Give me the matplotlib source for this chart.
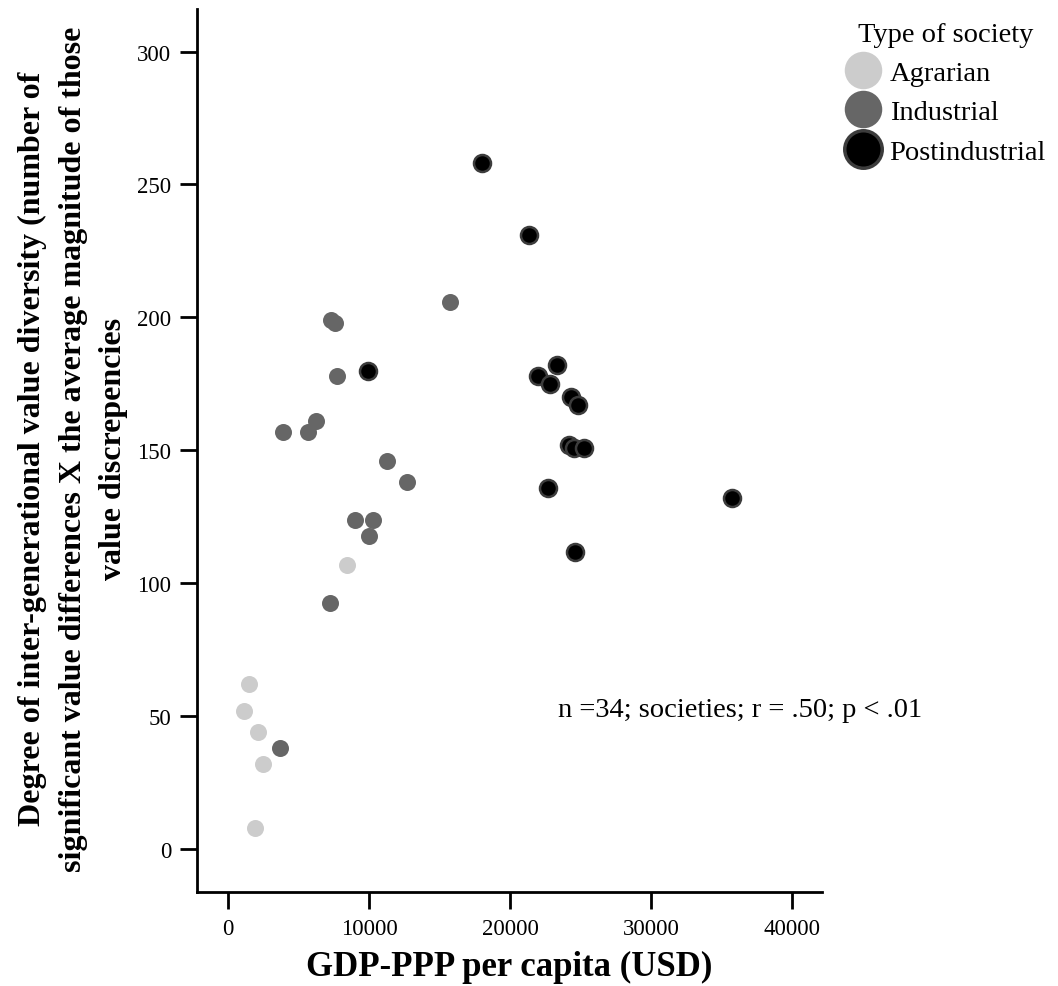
import matplotlib
matplotlib.use('Agg')
import matplotlib.pyplot as plt
from matplotlib.lines import Line2D

plt.rcParams['font.family'] = ['Liberation Serif', 'DejaVu Serif']

# GDP-PPP per capita (USD) and value diversity score, by type of society
agrarian_gdp = [8400, 1500, 1100, 2100, 2500, 1900]
agrarian_div = [107, 62, 52, 44, 32, 8]

industrial_gdp = [15700, 7300, 7600, 7700, 6200, 3900, 5700, 11300, 12700,
                  9000, 10300, 10000, 7200, 3700]
industrial_div = [206, 199, 198, 178, 161, 157, 157, 146, 138,
                  124, 124, 118, 92.5, 38]

post_gdp = [18000, 21300, 9900, 23300, 22000, 22800, 24300, 24800, 24200,
            24500, 25200, 22700, 35700, 24600]
post_div = [258, 231, 180, 182, 178, 175, 170, 167, 152,
            151, 151, 136, 132, 112]

types = ['Agrarian', 'Industrial', 'Postindustrial']
fills = ['#cccccc', '#666666', '#000000']
edges = ['#cccccc', '#666666', '#3c3c3c']

fig = plt.figure(figsize=(10.58, 9.87), dpi=100)
ax = fig.add_axes([0.1862, 0.0953, 0.5908, 0.8946])

series = [(agrarian_gdp, agrarian_div), (industrial_gdp, industrial_div),
          (post_gdp, post_div)]
for (gx, gy), fc, ec in zip(series, fills, edges):
    lw = 1.8 if fc == '#000000' else 0
    ax.scatter(gx, gy, s=150, c=fc, edgecolors=ec, linewidths=lw, zorder=3)

ax.set_xlim(-2200, 42100)
ax.set_ylim(-16, 316)
ax.set_xticks([0, 10000, 20000, 30000, 40000])
ax.set_yticks([0, 50, 100, 150, 200, 250, 300])

for side in ['top', 'right']:
    ax.spines[side].set_visible(False)
for side in ['left', 'bottom']:
    ax.spines[side].set_linewidth(2)
ax.tick_params(direction='out', length=12.5, width=2, labelsize=16.5, pad=6)

ax.set_xlabel('GDP-PPP per capita (USD)', fontsize=25, fontweight='bold', labelpad=8)
fig.text(0.069, 0.545,
         'Degree of inter-generational value diversity (number of\n'
         'significant value differences X the average magnitude of those\n'
         'value discrepencies',
         rotation=90, ha='center', va='center', fontsize=23, fontweight='bold',
         linespacing=1.52)

ax.text(23400, 52.5, 'n =34; societies; r = .50; p < .01', fontsize=20.5,
        va='center')

handles = [Line2D([], [], linestyle='none', marker='o', markersize=27,
                  markerfacecolor=fc, markeredgecolor=ec,
                  markeredgewidth=2.5 if fc == '#000000' else 0)
           for fc, ec in zip(fills, edges)]
fig.legend(handles, types, title='Type of society', loc='upper right',
           bbox_to_anchor=(1.01, 1.0), frameon=False, fontsize=20.5,
           title_fontsize=20.5, handletextpad=0.35, labelspacing=0.47,
           borderpad=0.3, handlelength=1.2)

fig.savefig('out.png', dpi=100)
